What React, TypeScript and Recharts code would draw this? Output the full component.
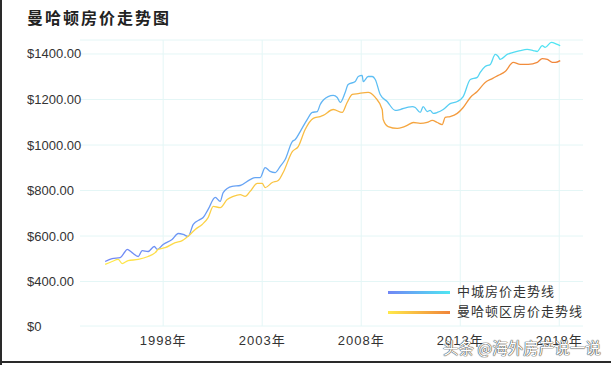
import React from "react";
import { LineChart, Line, XAxis, YAxis, CartesianGrid, ReferenceLine } from "recharts";

const title = "曼哈顿房价走势图";
const seriesNames = ["中城房价走势线", "曼哈顿区房价走势线"];
const watermark = "头条 @海外房产说一说";

const xTicks = [1998, 2003, 2008, 2013, 2018];
const xTickLabels = ["1998年", "2003年", "2008年", "2013年", "2018年"];
const yTicks = [204.5, 400, 600, 800, 1000, 1200, 1400];
const yTickLabels = ["$0", "$400.00", "$600.00", "$800.00", "$1000.00", "$1200.00", "$1400.00"];

const midtownYears = [1995.07,1995.42,1995.83,1996.08,1996.18,1996.43,1996.74,1996.94,1997.24,1997.55,1997.70,1998.0,1998.45,1998.76,1999.01,1999.26,1999.52,1999.87,2000.02,2000.27,2000.63,2000.88,2001.03,2001.48,2001.89,2002.39,2002.65,2002.90,2003.15,2003.40,2003.66,2003.91,2004.16,2004.52,2004.67,2004.92,2005.27,2005.53,2005.78,2005.93,2006.33,2006.59,2006.79,2006.94,2007.19,2007.34,2007.70,2007.85,2008.05,2008.10,2008.35,2008.56,2008.71,2008.96,2009.31,2009.72,2009.97,2010.32,2010.58,2010.73,2010.98,2011.13,2011.33,2011.48,2011.64,2011.84,2012.14,2012.49,2012.85,2013.15,2013.51,2013.86,2014.01,2014.26,2014.52,2014.77,2014.92,2015.02,2015.37,2015.68,2016.03,2016.38,2016.69,2016.89,2017.14,2017.29,2017.60,2017.90,2018.05];
const midtownValues = [488,501,505,532,541,527,510,536,532,554,541,563,585,611,607,598,651,673,681,717,770,752,791,818,822,848,857,857,901,884,879,906,936,1015,1024,1059,1112,1143,1147,1178,1213,1218,1209,1187,1231,1266,1279,1301,1306,1279,1301,1301,1288,1222,1191,1152,1156,1165,1169,1165,1143,1169,1147,1152,1139,1143,1156,1182,1191,1213,1288,1297,1319,1345,1354,1398,1389,1376,1398,1407,1415,1420,1415,1411,1437,1429,1451,1442,1437];

const manhattanYears = [1995.07,1995.42,1995.73,1995.93,1996.23,1996.74,1997.24,1997.60,1997.75,1998.10,1998.61,1998.96,1999.36,1999.62,1999.97,2000.27,2000.53,2000.88,2001.23,2001.54,2001.89,2002.14,2002.39,2002.75,2003.0,2003.15,2003.51,2003.81,2004.06,2004.52,2004.82,2005.17,2005.58,2005.93,2006.08,2006.59,2007.04,2007.29,2007.55,2007.85,2008.35,2008.71,2009.06,2009.11,2009.36,2009.82,2010.07,2010.32,2010.63,2010.98,2011.33,2011.59,2011.84,2012.09,2012.24,2012.49,2012.85,2013.15,2013.51,2013.86,2014.26,2014.62,2014.92,2015.27,2015.68,2016.03,2016.43,2016.89,2017.14,2017.40,2017.65,2017.80,2018.05];
const manhattanValues = [475,488,497,479,492,497,510,527,541,549,571,580,607,629,651,681,730,725,760,774,782,774,796,831,831,813,835,844,879,971,993,1068,1117,1125,1130,1156,1143,1187,1222,1226,1231,1209,1156,1112,1081,1073,1077,1086,1099,1095,1099,1108,1099,1090,1121,1125,1139,1165,1209,1235,1275,1292,1306,1323,1363,1354,1354,1363,1380,1376,1363,1363,1371];

const midtownData = midtownYears.map((year, i) => ({ year, value: midtownValues[i] }));
const manhattanData = manhattanYears.map((year, i) => ({ year, value: manhattanValues[i] }));

const FONT = "'Liberation Sans', Arial, 'Noto Sans CJK SC', sans-serif";
const GRID = "#e4f6f6";
const blueGrad = ["#7186f5", "#4fe6f2"];
const orangeGrad = ["#ffe94a", "#f0843a"];

const YTick = (props: any) => {
  const idx = yTicks.indexOf(props.payload.value);
  return (
    <text x={27} y={props.y} dy={4.5} textAnchor="start" fontSize={13} fill="#333" fontFamily={FONT}>
      {yTickLabels[idx]}
    </text>
  );
};

const XTick = (props: any) => {
  const idx = xTicks.indexOf(props.payload.value);
  return (
    <text x={props.x} y={345} textAnchor="middle" fontSize={13} letterSpacing={1} fill="#333" fontFamily={FONT}>
      {xTickLabels[idx]}
    </text>
  );
};

export default function App() {
  return (
    <div style={{ position: "absolute", left: 0, top: 0, width: 611, height: 365, background: "#fff", overflow: "hidden" }}>
      <div style={{ position: "absolute", left: 27, top: 5, fontSize: 16, fontWeight: "bold", letterSpacing: 2, color: "#222", fontFamily: FONT }}>
        {title}
      </div>
      <LineChart width={611} height={365} data={midtownData} margin={{ top: 40, right: 28, bottom: 9, left: 0 }}>
        <defs>
          <linearGradient id="gBlue" x1="0" y1="0" x2="1" y2="0">
            <stop offset="0%" stopColor={blueGrad[0]} />
            <stop offset="100%" stopColor={blueGrad[1]} />
          </linearGradient>
          <linearGradient id="gOrange" x1="0" y1="0" x2="1" y2="0">
            <stop offset="0%" stopColor={orangeGrad[0]} />
            <stop offset="100%" stopColor={orangeGrad[1]} />
          </linearGradient>
        </defs>
        <CartesianGrid stroke={GRID} strokeWidth={1} vertical={false} />
        <XAxis
          dataKey="year"
          type="number"
          domain={[1993.8, 2019.2]}
          ticks={xTicks}
          axisLine={false}
          tickLine={false}
          height={30}
          tick={<XTick />}
          allowDataOverflow
        />
        <YAxis
          type="number"
          domain={[204.5, 1461.5]}
          ticks={yTicks}
          axisLine={false}
          tickLine={false}
          width={80}
          tick={<YTick />}
          allowDataOverflow
        />
        {xTicks.map((t) => (
          <ReferenceLine key={t} x={t} stroke={GRID} strokeWidth={1} />
        ))}
        <Line data={midtownData} dataKey="value" name={seriesNames[0]} type="monotone" stroke="url(#gBlue)" strokeWidth={1.3} dot={false} isAnimationActive={false} />
        <Line data={manhattanData} dataKey="value" name={seriesNames[1]} type="monotone" stroke="url(#gOrange)" strokeWidth={1.3} dot={false} isAnimationActive={false} />
      </LineChart>
      <div style={{ position: "absolute", left: 388, top: 282, fontFamily: FONT }}>
        {[blueGrad, orangeGrad].map((g, i) => (
          <div key={i} style={{ display: "flex", alignItems: "center", height: 20 }}>
            <div style={{ width: 62, height: 3, background: `linear-gradient(to right, ${g[0]}, ${g[1]})` }} />
            <span style={{ marginLeft: 7, fontSize: 13, letterSpacing: 1, color: "#333", lineHeight: "20px" }}>
              {seriesNames[i]}
            </span>
          </div>
        ))}
      </div>
      <div style={{ position: "absolute", left: 443, top: 336, fontSize: 15.5, color: "#fff", fontFamily: "'Noto Sans CJK SC', sans-serif", textShadow: "0 0 1px #444, 0 0 1px #444, 0 0 1px #444" }}>
        {watermark}
      </div>
      <div style={{ position: "absolute", left: 0, top: 0, width: 2, height: 365, background: "#2a2a2a" }} />
      <div style={{ position: "absolute", left: 0, top: 361, width: 611, height: 2, background: "#2a2a2a" }} />
    </div>
  );
}
